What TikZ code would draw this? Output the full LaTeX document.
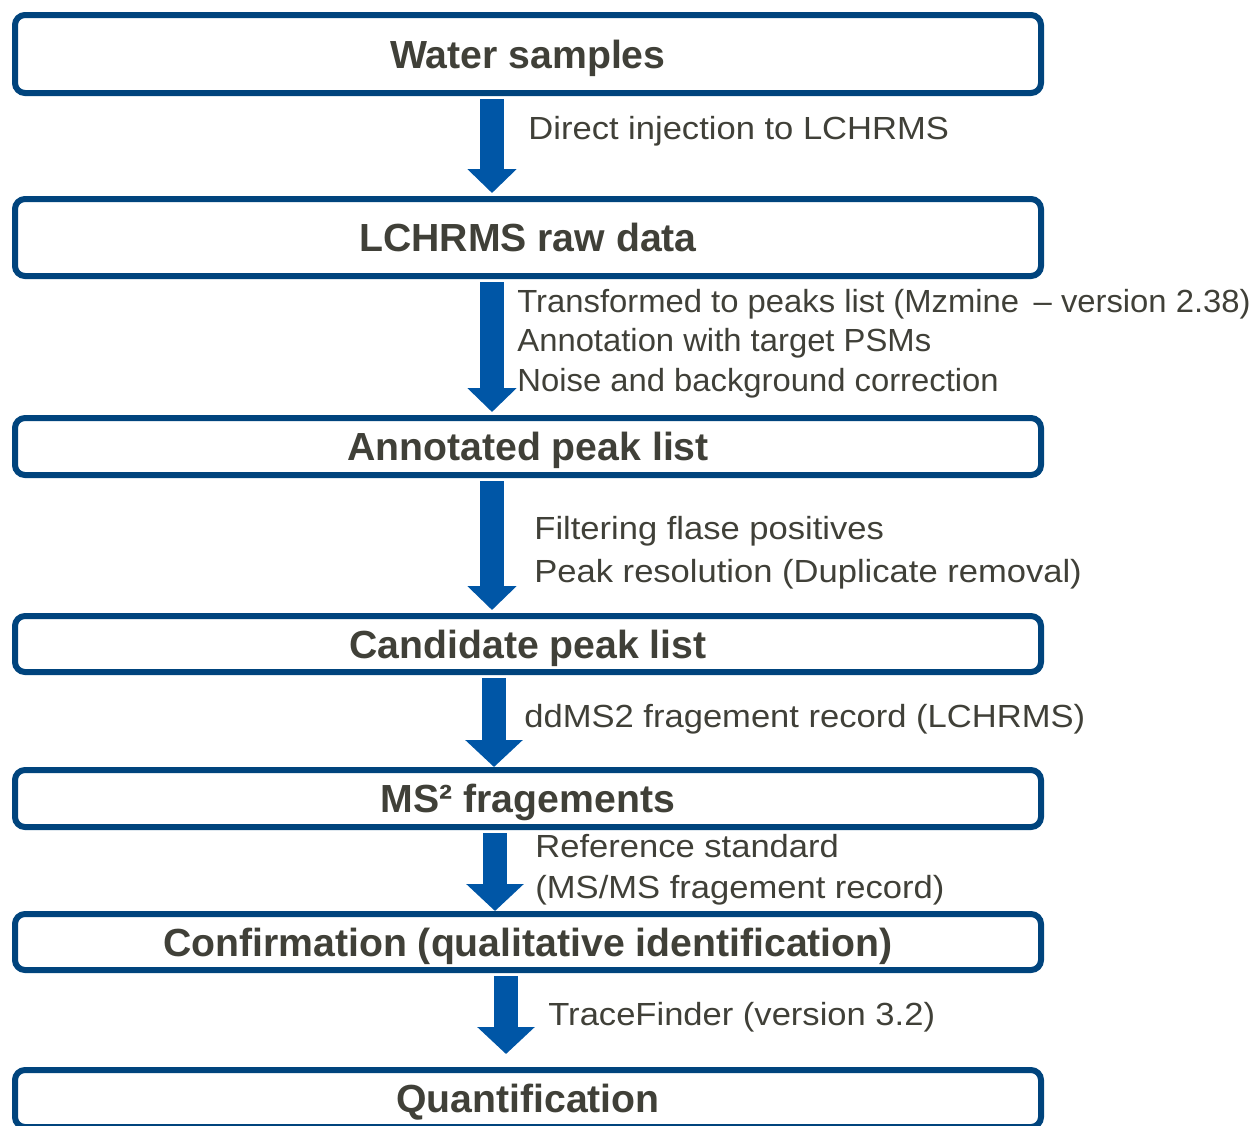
\documentclass[tikz,border=0pt]{standalone}
\usepackage{fontspec}
\setmainfont{Liberation Sans}
\usetikzlibrary{arrows.meta}

\definecolor{boxblue}{RGB}{0,68,125}
\definecolor{arrowblue}{RGB}{0,86,166}
\definecolor{inkgray}{RGB}{64,64,56}

\begin{document}
\begin{tikzpicture}[
  x=0.5pt, y=-0.5pt,
  stage/.style={draw=boxblue, line width=3pt, rounded corners=5pt, fill=white,
    minimum width=513pt, inner sep=0pt, text=inkgray,
    font=\fontsize{19.6pt}{23pt}\selectfont\bfseries,
    text height=14pt, text depth=0pt},
  note/.style={anchor=base west, inner sep=0pt, text=inkgray,
    font=\fontsize{16pt}{20pt}\selectfont\addfontfeature{FakeStretch=1.08}},
  notetight/.style={note,
    font=\fontsize{16pt}{20pt}\selectfont\addfontfeature{FakeStretch=1.025}},
  flow/.style={draw=arrowblue, line width=12pt, line cap=butt,
    -{Triangle[width=24pt,length=12pt]}, shorten <=1.5pt, shorten >=1.5pt},
  flowwide/.style={flow, -{Triangle[width=28pt,length=13.5pt]}}
]
\useasboundingbox (0,0) rectangle (1256,1125);
\clip (0,0) rectangle (1256,1125);

% process stages
\node[stage, minimum height=39pt]   (water) at (528,54)     {Water samples};
\node[stage, minimum height=38.5pt] (raw)   at (528,237.5)  {LCHRMS raw data};
\node[stage, minimum height=28.5pt] (annot) at (528,446.5)  {Annotated peak list};
\node[stage, minimum height=28pt]   (cand)  at (528,644)    {Candidate peak list};
\node[stage, minimum height=28.5pt] (frag)  at (528,798.5)  {MS² fragements};
\node[stage, minimum height=28pt]   (conf)  at (528,942)    {Confirmation (qualitative identification)};
\node[stage, minimum height=28.5pt] (quant) at (528,1098.5) {Quantification};

% connecting block arrows
\draw[flow] ([xshift=-18pt]water.south) -- ([xshift=-18pt]raw.north);
\draw[flow] ([xshift=-18pt]raw.south)   -- ([xshift=-18pt]annot.north);
\draw[flow] ([xshift=-18pt]annot.south) -- ([xshift=-18pt]cand.north);
\draw[flowwide, shorten >=0pt] ([xshift=-17pt]cand.south) -- ([xshift=-17pt]frag.north);
\draw[flowwide, shorten >=0pt] ([xshift=-16.5pt]frag.south) -- ([xshift=-16.5pt]conf.north);
\draw[flowwide, shorten >=6.5pt] ([xshift=-11pt]conf.south) -- ([xshift=-11pt]quant.north);

% step descriptions
\node[note]      (n1)  at (528,139) {Direct injection to LCHRMS};
\node[notetight] (n2a) at (517,312) {Transformed to peaks list (Mzmine \,– version 2.38)};
\node[notetight] (n2b) at (517,351) {Annotation with target PSMs};
\node[notetight] (n2c) at (517,391) {Noise and background correction};
\node[note]      (n3a) at (534,539) {Filtering flase positives};
\node[note]      (n3b) at (534,582) {Peak resolution (Duplicate removal)};
\node[note]      (n4)  at (524,727) {ddMS2 fragement record (LCHRMS)};
\node[note]      (n5a) at (535,857) {Reference standard};
\node[note]      (n5b) at (535,898) {(MS/MS fragement record)};
\node[note]      (n6)  at (548,1025) {TraceFinder (version 3.2)};
\end{tikzpicture}
\end{document}
